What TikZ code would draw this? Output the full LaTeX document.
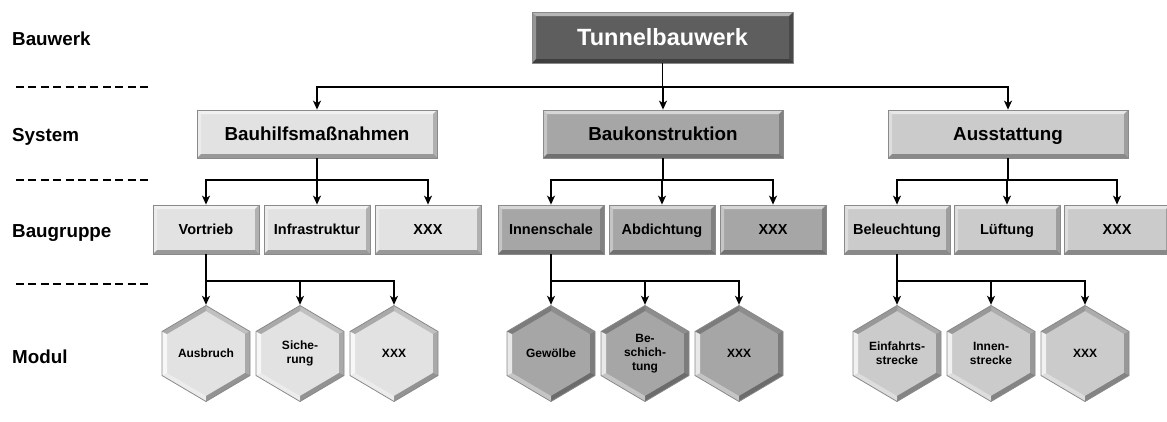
\documentclass[tikz,border=0pt]{standalone}
\usepackage{fontspec}
\setmainfont{Liberation Sans}
\usetikzlibrary{arrows.meta}

\definecolor{tbdark}{HTML}{5E5E5E}
\definecolor{grpA}{HTML}{E2E2E2}
\definecolor{grpB}{HTML}{A6A6A6}
\definecolor{grpC}{HTML}{CBCBCB}
\definecolor{rim}{HTML}{8A8A8A}

% bevelled edges of a rectangular box (drawn over its fill)
\newcommand\boxbevel{%
  \fill[white,opacity=.55] (path picture bounding box.north west) -- (path picture bounding box.north east)
     -- ([shift={(-4pt,-4pt)}]path picture bounding box.north east) -- ([shift={(4pt,-4pt)}]path picture bounding box.north west) -- cycle;
  \fill[white,opacity=.35] (path picture bounding box.north west) -- ([shift={(4pt,-4pt)}]path picture bounding box.north west)
     -- ([shift={(4pt,4pt)}]path picture bounding box.south west) -- (path picture bounding box.south west) -- cycle;
  \fill[black,opacity=.32] (path picture bounding box.south west) -- ([shift={(4pt,4pt)}]path picture bounding box.south west)
     -- ([shift={(-4pt,4pt)}]path picture bounding box.south east) -- (path picture bounding box.south east) -- cycle;
  \fill[black,opacity=.22] (path picture bounding box.north east) -- (path picture bounding box.south east)
     -- ([shift={(-4pt,4pt)}]path picture bounding box.south east) -- ([shift={(-4pt,-4pt)}]path picture bounding box.north east) -- cycle;
}

% bevelled hexagon (pointy top) inside the node's box
\newcommand\hexbevel[1]{%
  \path (path picture bounding box.center) coordinate (hxc)
    ([shift={(0pt,48pt)}]hxc) coordinate (o1)
    ([shift={(44pt,22pt)}]hxc) coordinate (o2)
    ([shift={(44pt,-22pt)}]hxc) coordinate (o3)
    ([shift={(0pt,-48pt)}]hxc) coordinate (o4)
    ([shift={(-44pt,-22pt)}]hxc) coordinate (o5)
    ([shift={(-44pt,22pt)}]hxc) coordinate (o6)
    ([shift={(0pt,42.5pt)}]hxc) coordinate (i1)
    ([shift={(39pt,19.5pt)}]hxc) coordinate (i2)
    ([shift={(39pt,-19.5pt)}]hxc) coordinate (i3)
    ([shift={(0pt,-42.5pt)}]hxc) coordinate (i4)
    ([shift={(-39pt,-19.5pt)}]hxc) coordinate (i5)
    ([shift={(-39pt,19.5pt)}]hxc) coordinate (i6);
  \fill[#1] (o1) -- (o2) -- (o3) -- (o4) -- (o5) -- (o6) -- cycle;
  \fill[black,opacity=.15] (o1) -- (o2) -- (i2) -- (i1) -- cycle;
  \fill[black,opacity=.25] (o2) -- (o3) -- (i3) -- (i2) -- cycle;
  \fill[black,opacity=.35] (o3) -- (o4) -- (i4) -- (i3) -- cycle;
  \fill[white,opacity=.35] (o4) -- (o5) -- (i5) -- (i4) -- cycle;
  \fill[white,opacity=.75] (o5) -- (o6) -- (i6) -- (i5) -- cycle;
  \fill[black,opacity=.25] (o6) -- (o1) -- (i1) -- (i6) -- cycle;
  \draw[rim,line width=.8pt] (o1) -- (o2) -- (o3) -- (o4) -- (o5) -- (o6) -- cycle;
}

\begin{document}
\begin{tikzpicture}[x=1pt,y=-1pt,
  lvl/.style={anchor=base west,inner sep=0pt,font=\bfseries\fontsize{18.8}{22}\selectfont},
  sepline/.style={line width=1.3pt,dash pattern=on 8pt off 4.4pt},
  box/.style={rectangle,draw=rim,line width=.8pt,fill=#1,inner sep=0pt,text depth=0pt,path picture={\boxbevel}},
  topbox/.style={box=tbdark,minimum width=261pt,minimum height=51pt,text=white,text height=16.8pt,
    font=\bfseries\fontsize{23.5}{26}\selectfont},
  sysbox/.style={box=#1,minimum width=240pt,minimum height=48pt,text height=13.4pt,
    font=\bfseries\fontsize{18.8}{22}\selectfont},
  grpbox/.style={box=#1,minimum width=106pt,minimum height=49pt,text height=10.4pt,
    font=\bfseries\fontsize{14.5}{17}\selectfont},
  hexnode/.style={rectangle,minimum width=89pt,minimum height=97pt,inner sep=0pt,align=center,
    font=\bfseries\fontsize{12}{13.8}\selectfont,path picture={\hexbevel{#1}}},
  conn/.style={line width=1.3pt},
  arr/.style={conn,-{Stealth[length=9pt,width=8pt,inset=2.5pt]}}]

\useasboundingbox (0,0) rectangle (1167,421);

% level captions and separators
\node[lvl] (lv1) at (12,45) {Bauwerk};
\node[lvl] (lv2) at (12,141) {System};
\node[lvl] (lv3) at (12,237) {Baugruppe};
\node[lvl] (lv4) at (12,363) {Modul};
\foreach \yy in {87,180,284} \draw[sepline] (16,\yy) -- (150,\yy);

% structure
\node[topbox] (tb) at (662.5,37.5) {Tunnelbauwerk};

\node[sysbox=grpA] (s1) at (317,134) {Bauhilfsmaßnahmen};
\node[sysbox=grpB] (s2) at (663,134) {Baukonstruktion};
\node[sysbox=grpC] (s3) at (1008,134) {Ausstattung};

\node[grpbox=grpA] (a1) at (206,229.5) {Vortrieb};
\node[grpbox=grpA] (a2) at (317,229.5) {Infrastruktur};
\node[grpbox=grpA] (a3) at (428,229.5) {XXX};
\node[grpbox=grpB] (b1) at (551,229.5) {Innenschale};
\node[grpbox=grpB] (b2) at (662,229.5) {Abdichtung};
\node[grpbox=grpB] (b3) at (773,229.5) {XXX};
\node[grpbox=grpC] (c1) at (897,229.5) {Beleuchtung};
\node[grpbox=grpC] (c2) at (1007,229.5) {Lüftung};
\node[grpbox=grpC] (c3) at (1117,229.5) {XXX};

\node[hexnode=grpA] (ha1) at (206,353.5) {Ausbruch};
\node[hexnode=grpA] (ha2) at (300,353.5) {Siche-\\rung};
\node[hexnode=grpA] (ha3) at (394,353.5) {XXX};
\node[hexnode=grpB] (hb1) at (551,353.5) {Gewölbe};
\node[hexnode=grpB] (hb2) at (645,353.5) {Be-\\schich-\\tung};
\node[hexnode=grpB] (hb3) at (739,353.5) {XXX};
\node[hexnode=grpC] (hc1) at (897,353.5) {Einfahrts-\\strecke};
\node[hexnode=grpC] (hc2) at (991,353.5) {Innen-\\strecke};
\node[hexnode=grpC] (hc3) at (1085,353.5) {XXX};

% connectors
\coordinate (r1) at (0,87);
\coordinate (r2) at (0,180);
\coordinate (r3) at (0,281);

\foreach \c in {s1,s2,s3} \draw[arr] (tb.south) -- (tb.south |- r1) -| (\c.north);
\foreach \c in {a1,a2,a3} \draw[arr] (s1.south) -- (s1.south |- r2) -| (\c.north);
\foreach \c in {b1,b2,b3} \draw[arr] (s2.south) -- (s2.south |- r2) -| (\c.north);
\foreach \c in {c1,c2,c3} \draw[arr] (s3.south) -- (s3.south |- r2) -| (\c.north);
\foreach \c in {ha1,ha2,ha3} \draw[arr] (a1.south) -- (a1.south |- r3) -| (\c.north);
\foreach \c in {hb1,hb2,hb3} \draw[arr] (b1.south) -- (b1.south |- r3) -| (\c.north);
\foreach \c in {hc1,hc2,hc3} \draw[arr] (c1.south) -- (c1.south |- r3) -| (\c.north);

\end{tikzpicture}
\end{document}
